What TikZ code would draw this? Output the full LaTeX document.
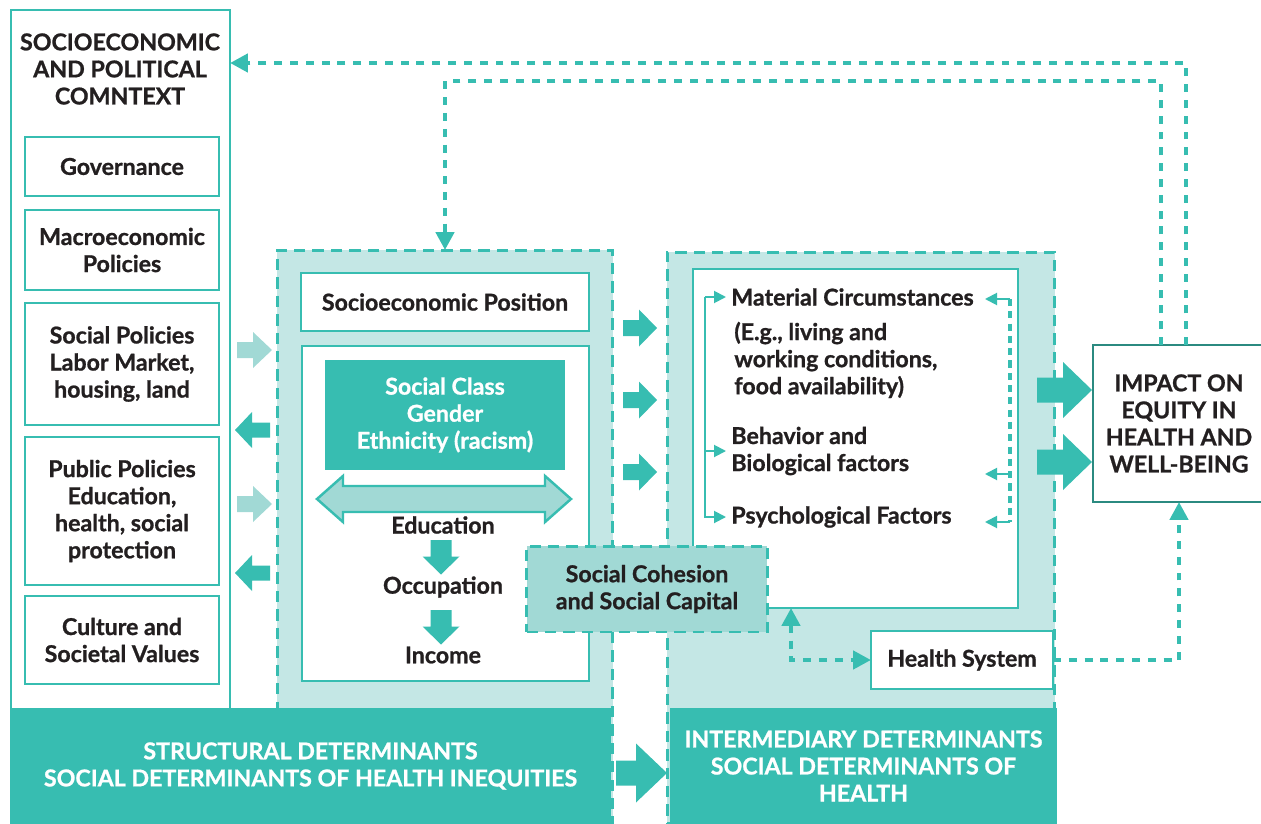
\documentclass[tikz,border=0pt]{standalone}
\usepackage{fontspec}
\setmainfont{Lato}[BoldFeatures={FakeBold=0.9}]
\usepackage{tikz}
\usetikzlibrary{arrows.meta, positioning, calc}

\definecolor{sdhteal}{RGB}{55,189,177}
\definecolor{sdhpale}{RGB}{196,231,229}
\definecolor{sdhmid}{RGB}{161,217,213}
\definecolor{sdhdark}{RGB}{43,138,128}
\definecolor{sdhink}{RGB}{35,31,32}

\newcommand{\bodyfont}{\fontsize{13.2}{15.4}\selectfont\bfseries}

% block arrow: [style]{tail x}{y}{head base x}{tip x}{half shaft}{half head}
\newcommand{\fatarrow}[7][fatarr]{%
  \fill[#1] (#2,#3-#6) -- (#4,#3-#6) -- (#4,#3-#7) -- (#5,#3)
            -- (#4,#3+#7) -- (#4,#3+#6) -- (#2,#3+#6) -- cycle;}

\tikzset{
  box/.style    = {draw=sdhteal, line width=1.6pt, fill=white, inner sep=0pt,
                   outer sep=0pt, align=center, font=\bodyfont, text=sdhink},
  panel/.style  = {draw=sdhteal, fill=sdhpale, line width=1.7pt,
                   dash pattern=on 6.5pt off 4pt, inner sep=0pt, outer sep=0pt},
  bar/.style    = {fill=sdhteal, text=white, inner sep=0pt, outer sep=0pt,
                   align=center, font=\bodyfont},
  txt/.style    = {inner sep=0pt, align=center, font=\bodyfont, text=sdhink},
  ltxt/.style   = {inner ysep=0pt, inner xsep=0.1cm, align=left, anchor=west,
                   font=\bodyfont, text=sdhink},
  fbk/.style    = {draw=sdhteal, line width=2.6pt, dash pattern=on 4.5pt off 4.5pt,
                   >={Triangle[length=3.6mm,width=3.6mm]}, ->},
  tharr/.style  = {draw=sdhteal, line width=1.1pt,
                   >={Triangle[length=2.4mm,width=2.4mm]}, ->},
  thdash/.style = {draw=sdhteal, line width=2pt, dash pattern=on 4pt off 3pt},
  fatarr/.style = {fill=sdhteal},
  lightarr/.style = {fill=sdhmid},
}

\begin{document}
\begin{tikzpicture}[x=0.02cm, y=-0.02cm]
  \useasboundingbox (0,0) rectangle (1261,824);

  % Context column
  \node[box, minimum width=4.38cm, minimum height=14.04cm] (ctx) at (120.5,361) {};
  \node[txt] (ctxtitle) at (120,69) {SOCIOECONOMIC\\AND POLITICAL\\COMNTEXT};
  \node[box, minimum width=3.88cm, minimum height=1.18cm] (gov) at (122,166.5) {Governance};
  \node[box, minimum width=3.88cm, minimum height=1.6cm] (macro) at (122,250)
        {Macroeconomic\\Policies};
  \node[box, minimum width=3.88cm, minimum height=2.44cm] (socpol) at (122,364)
        {Social Policies\\Labor Market,\\housing, land};
  \node[box, minimum width=3.88cm, minimum height=2.96cm] (pubpol) at (122,511)
        {Public Policies\\Education,\\health, social\\protection};
  \node[box, minimum width=3.88cm, minimum height=1.76cm] (culture) at (122,640)
        {Culture and\\Societal Values};

  % Shaded panels
  \node[panel, minimum width=6.72cm, minimum height=11.48cm] (strp) at (445,537) {};
  \node[panel, minimum width=7.76cm, minimum height=11.44cm] (intp) at (861,538) {};

  % Structural side
  \node[box, minimum width=5.76cm, minimum height=1.16cm] (sep) at (445,302)
        {Socioeconomic Position};
  \node[box, minimum width=5.74cm, minimum height=6.7cm] (sepbox) at (445.5,513.5) {};
  \node[bar, minimum width=4.8cm, minimum height=2.22cm] (cls) at (445,415)
        {Social Class\\Gender\\Ethnicity (racism)};
  \filldraw[draw=sdhteal, fill=sdhmid, line width=1.4pt]
        (317,499) -- (343,476) -- (343,486) -- (545,486) -- (545,476) -- (571,499)
        -- (545,522) -- (545,512) -- (343,512) -- (343,522) -- cycle;
  \node[txt] (edu) at (443,525) {Education};
  \node[txt] (occ) at (443,587) {Occupation};
  \node[txt] (inc) at (443,655) {Income};
  \foreach \y in {540,610}
    \fill[fatarr] (430.5,\y) -- (451.5,\y) -- (451.5,\y+16.5) -- (459.5,\y+16.5)
        -- (441,\y+34.5) -- (422.5,\y+16.5) -- (430.5,\y+16.5) -- cycle;

  % Intermediary side
  \node[box, minimum width=6.5cm, minimum height=6.78cm] (intbox) at (855.5,438.5) {};
  \node[ltxt] (mat) at (726,297) {Material Circumstances};
  \node[ltxt] (matex) at (729,360) {(E.g., living and\\working conditions,\\food availability)};
  \node[ltxt] (beh) at (726,451) {Behavior and\\Biological factors};
  \node[ltxt] (psy) at (726,517) {Psychological Factors};

  \coordinate (lb) at (705,297);
  \draw[tharr] (lb) -- (mat.west);
  \draw[tharr] (lb |- beh.west) -- (beh.west);
  \draw[tharr] (lb) |- (psy.west);

  \coordinate (rbtop) at (1010,299);
  \coordinate (rbmid) at (1010,474);
  \coordinate (rbbot) at (1010,522);
  \draw[thdash] (rbtop) -- (rbbot);
  \foreach \c in {rbtop,rbmid,rbbot}
    \draw[tharr] (\c) -- ++(-25,0);

  % Outcome
  \node[box, draw=sdhdark, minimum width=3.44cm, minimum height=3.14cm] (impact)
        at (1179,423.5) {IMPACT ON\\EQUITY IN\\HEALTH AND\\WELL-BEING};

  % Feedback loops
  \coordinate (fbo) at (1186,63);
  \coordinate (fbi) at (1161,81);
  \draw[fbk] (impact.north -| fbo) -- (fbo) -- (fbo -| ctx.east);
  \draw[fbk] (impact.north -| fbi) -- (fbi) -| (strp.north);

  % Bottom bars
  \node[bar, minimum width=12.02cm, minimum height=2.32cm] (strbar) at (310.5,766)
        {STRUCTURAL DETERMINANTS\\SOCIAL DETERMINANTS OF HEALTH INEQUITIES};
  \node[bar, minimum width=7.74cm, minimum height=2.32cm] (intbar) at (863.5,766)
        {INTERMEDIARY DETERMINANTS\\SOCIAL DETERMINANTS OF\\HEALTH};

  % Cohesion and health system
  \node[box, fill=sdhmid, dash pattern=on 6.5pt off 4pt, line width=1.7pt,
        minimum width=4.82cm, minimum height=1.72cm] (scbox) at (647,589)
        {Social Cohesion\\and Social Capital};
  \node[box, minimum width=3.64cm, minimum height=1.16cm] (hs) at (962,660)
        {Health System};

  \coordinate (hsl) at (791,663);
  \draw[fbk, <->] (intbox.south -| hsl) |- (hs.west);
  \draw[fbk] (hs.east) -| (impact.south);

  % Block arrows
  \foreach \y in {350,504}
    {\fatarrow[lightarr]{237}{\y}{253}{272}{8}{18}}
  \foreach \y in {430,573}
    {\fatarrow{270}{\y}{252}{235}{7.5}{18}}
  \foreach \y in {328,400,472}
    {\fatarrow{623}{\y}{639}{657}{8}{18.5}}
  \foreach \y in {390,462}
    {\fatarrow{1037}{\y}{1063}{1092}{12.5}{28}}
  \fatarrow{616}{773}{636}{667}{12.5}{29.5}
\end{tikzpicture}
\end{document}
